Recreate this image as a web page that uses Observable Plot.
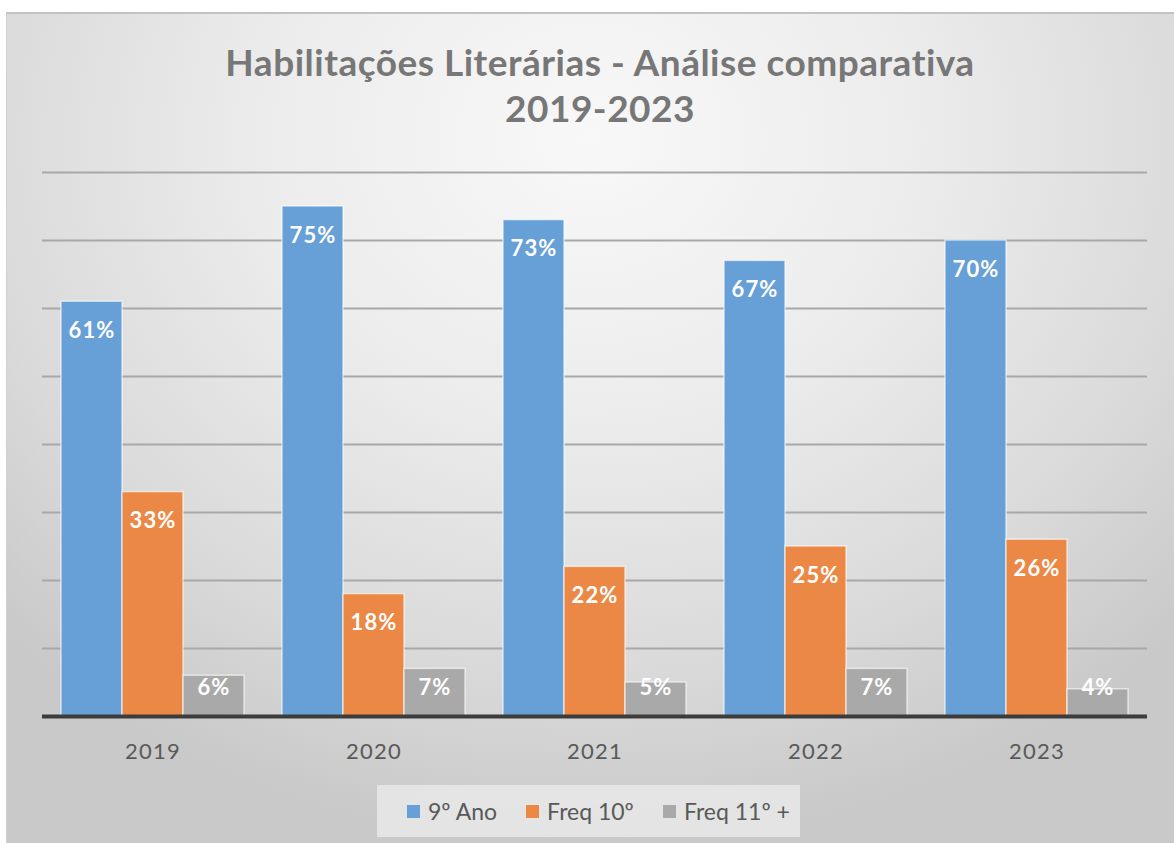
<!DOCTYPE html>
<html>
<head>
<meta charset="utf-8">
<script src="https://cdn.jsdelivr.net/npm/d3@7"></script>
<script src="https://cdn.jsdelivr.net/npm/@observablehq/plot@0.6"></script>
<style>
  html, body { margin: 0; padding: 0; background: #ffffff; }
  body { width: 1174px; height: 843px; position: relative; overflow: hidden; font-family: Lato, "Open Sans", sans-serif; }
  #frame {
    position: absolute; left: 6px; top: 12px; width: 1168px; height: 831px;
    border-top: 2px solid #c2c2c2; border-left: 1px solid #d0d0d0;
    box-sizing: border-box;
    background: radial-gradient(ellipse 70% 85% at 50% 15%, #f8f8f8 0%, #ececec 40%, #dadada 75%, #c9c9c9 100%);
  }
  #title {
    position: absolute; left: 0; top: 39px; width: 1200px; text-align: center;
    font-family: Lato, sans-serif; font-weight: bold; font-size: 37px; line-height: 46px; color: #777777;
    letter-spacing: 0.5px;
  }
  #chart { position: absolute; left: 0; top: 150px; }
  #legend {
    position: absolute; left: 377px; top: 785px; width: 423px; height: 52px;
    background: rgba(236,236,236,0.75); box-sizing: border-box; padding-left: 30px;
    display: flex; align-items: center; overflow: visible;
  }
  #legend .lg-swatches { font-family: Lato, sans-serif !important; font-size: 23px !important; color: #595959 !important; margin: 0 !important; min-height: 0 !important; white-space: nowrap !important; flex-wrap: nowrap !important; display: flex !important; width: auto !important; max-width: none !important; }
  #legend .lg-swatch { margin-right: 29px !important; white-space: nowrap !important; flex-shrink: 0; font-size: 23px !important; }
  #legend .lg-swatch > svg { margin-right: 8px !important; }
</style>
</head>
<body>
<div id="frame"></div>
<div id="title">Habilitações Literárias - Análise comparativa<br>2019-2023</div>
<div id="chart"></div>
<div id="legend"></div>
<script>
const years = ["2019", "2020", "2021", "2022", "2023"];
const series = ["9º Ano", "Freq 10º", "Freq 11º +"];
const colors = ["#679fd7", "#eb8845", "#a9a9a9"];
const ano9 = [61, 75, 73, 67, 70];
const freq10 = [33, 18, 22, 25, 26];
const freq11 = [6, 7, 5, 7, 4];
const gridTicks = [10, 20, 30, 40, 50, 60, 70, 80];

const seriesValues = [ano9, freq10, freq11];
const data = [];
years.forEach((y, i) => {
  series.forEach((s, j) => data.push({year: y, series: s, value: seriesValues[j][i]}));
});

const plot = Plot.plot({
  width: 1174,
  height: 630,
  marginTop: 22,
  marginBottom: 64,
  marginLeft: 40,
  marginRight: 26,
  style: {background: "transparent", fontFamily: "Lato, sans-serif", fontSize: "22px", color: "#595959", overflow: "visible", letterSpacing: "1.2px"},
  fx: {domain: years, padding: 0, axis: "bottom", tickSize: 0, tickPadding: 27, label: null},
  x: {domain: series, axis: null, paddingInner: 0, paddingOuter: 0.3},
  y: {domain: [0, 80], axis: null},
  color: {domain: series, range: colors},
  marks: [
    Plot.ruleY(gridTicks, {stroke: "#a8a8a8", strokeWidth: 2}),
    Plot.barY(data, {fx: "year", x: "series", y: "value", fill: "series", stroke: "#ffffff", strokeOpacity: 0.6, strokeWidth: 1.5}),
    Plot.ruleY([0], {stroke: "#3c3c3c", strokeWidth: 4}),
    Plot.text(data, {fx: "year", x: "series", y: d => Math.max(d.value, 8.5), text: d => d.value + "%", dy: 29, fill: "white", fontWeight: "bold", fontSize: 22, letterSpacing: "0.5px"})
  ]
});
document.getElementById("chart").appendChild(plot);

const legend = Plot.legend({color: {domain: series, range: colors}, legend: "swatches", swatchSize: 13, className: "lg"});
document.getElementById("legend").appendChild(legend);
</script>
</body>
</html>
